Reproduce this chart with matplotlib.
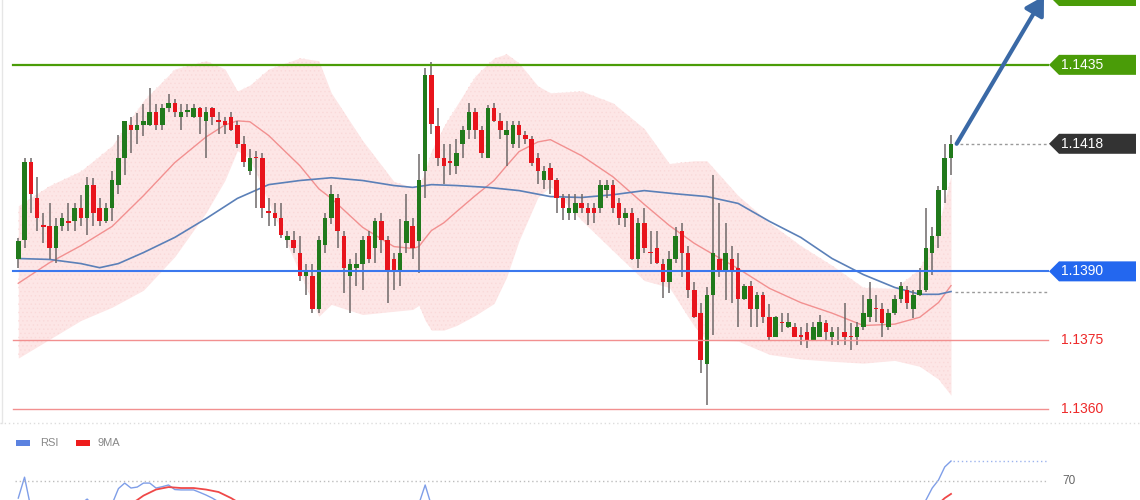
import numpy as np
import matplotlib.pyplot as plt
from matplotlib.patches import Polygon, Rectangle
from matplotlib.lines import Line2D
from matplotlib.transforms import blended_transform_factory

plt.rcParams['font.family'] = ['Liberation Sans', 'DejaVu Sans']
plt.rcParams['hatch.linewidth'] = 0.5

# ---- candle data ----
opens = [1.13928, 1.13969, 1.14139, 1.14059, 1.14000, 1.13998, 1.13950, 1.13998, 1.14009, 1.14009,
         1.14039, 1.14017, 1.14089, 1.14039, 1.14009, 1.14039, 1.14089, 1.14148, 1.14219, 1.14209,
         1.14219, 1.14219, 1.14248, 1.14219, 1.14256, 1.14267, 1.14237, 1.14248, 1.14237, 1.14256,
         1.14228, 1.14256, 1.14228, 1.14228, 1.14237, 1.14219, 1.14178, 1.14119, 1.14148, 1.14148,
         1.14030, 1.14028, 1.14017, 1.13969, 1.13969, 1.13939, 1.13889, 1.13889, 1.13819, 1.13958,
         1.14017, 1.14059, 1.13978, 1.13889, 1.13908, 1.13917, 1.13978, 1.13950, 1.14009, 1.13969,
         1.13928, 1.13898, 1.13961, 1.13998, 1.13967, 1.14119, 1.14328, 1.14217, 1.14148, 1.14139,
         1.14130, 1.14178, 1.14209, 1.14248, 1.14209, 1.14148, 1.14256, 1.14228, 1.14198, 1.14178,
         1.14219, 1.14198, 1.14189, 1.14148, 1.14098, 1.14126, 1.14098, 1.14059, 1.14028, 1.14028,
         1.14048, 1.14037, 1.14037, 1.14037, 1.14078, 1.14089, 1.14048, 1.14017, 1.14028, 1.13928,
         1.14006, 1.13941, 1.13950, 1.13917, 1.13876, 1.13928, 1.13989, 1.13939, 1.13859, 1.13809,
         1.13698, 1.13848, 1.13928, 1.13898, 1.13928, 1.13908, 1.13839, 1.13869, 1.13819, 1.13848,
         1.13800, 1.13758, 1.13789, 1.13778, 1.13778, 1.13761, 1.13767, 1.13750, 1.13758, 1.13787,
         1.13758, 1.13750, 1.13767, 1.13758, 1.13758, 1.13778, 1.13800, 1.13819, 1.13819, 1.13778,
         1.13809, 1.13839, 1.13859, 1.13819, 1.13848, 1.13859, 1.13941, 1.13978, 1.14078, 1.14148]
highs = [1.13972, 1.14146, 1.14148, 1.14106, 1.14028, 1.14048, 1.14017, 1.14028, 1.14048, 1.14048,
         1.14067, 1.14106, 1.14104, 1.14059, 1.14048, 1.14119, 1.14198, 1.14228, 1.14237, 1.14245,
         1.14265, 1.14300, 1.14265, 1.14265, 1.14287, 1.14276, 1.14265, 1.14265, 1.14265, 1.14259,
         1.14259, 1.14259, 1.14248, 1.14237, 1.14248, 1.14228, 1.14196, 1.14167, 1.14163, 1.14159,
         1.14059, 1.14048, 1.14048, 1.13989, 1.13989, 1.13978, 1.13917, 1.13917, 1.13978, 1.14028,
         1.14089, 1.14069, 1.13989, 1.13928, 1.13939, 1.13978, 1.13989, 1.14017, 1.14028, 1.13978,
         1.13939, 1.14015, 1.14069, 1.14017, 1.14156, 1.14343, 1.14356, 1.14256, 1.14178, 1.14178,
         1.14189, 1.14217, 1.14267, 1.14256, 1.14217, 1.14263, 1.14267, 1.14245, 1.14228, 1.14228,
         1.14228, 1.14206, 1.14196, 1.14159, 1.14130, 1.14137, 1.14104, 1.14069, 1.14069, 1.14069,
         1.14069, 1.14048, 1.14048, 1.14100, 1.14098, 1.14098, 1.14059, 1.14039, 1.14037, 1.14017,
         1.14037, 1.13989, 1.13989, 1.13928, 1.13945, 1.13996, 1.14006, 1.13956, 1.13876, 1.13830,
         1.13865, 1.14109, 1.14048, 1.14006, 1.13956, 1.13939, 1.13872, 1.13880, 1.13854, 1.13854,
         1.13828, 1.13802, 1.13809, 1.13809, 1.13787, 1.13778, 1.13787, 1.13789, 1.13804, 1.13793,
         1.13778, 1.13778, 1.13830, 1.13787, 1.13789, 1.13848, 1.13876, 1.13848, 1.13830, 1.13819,
         1.13848, 1.13876, 1.13869, 1.13859, 1.13908, 1.14037, 1.13996, 1.14087, 1.14178, 1.14198]
lows = [1.13908, 1.13950, 1.14028, 1.13989, 1.13961, 1.13928, 1.13919, 1.13989, 1.13989, 1.13989,
        1.13998, 1.13980, 1.13998, 1.13998, 1.14006, 1.14009, 1.14069, 1.14109, 1.14159, 1.14178,
        1.14196, 1.14217, 1.14209, 1.14209, 1.14248, 1.14237, 1.14209, 1.14237, 1.14235, 1.14200,
        1.14148, 1.14219, 1.14200, 1.14200, 1.14206, 1.14169, 1.14128, 1.14109, 1.14039, 1.14017,
        1.13998, 1.13998, 1.13972, 1.13952, 1.13939, 1.13880, 1.13848, 1.13809, 1.13809, 1.13939,
        1.14004, 1.13950, 1.13852, 1.13809, 1.13869, 1.13859, 1.13919, 1.13919, 1.13939, 1.13830,
        1.13859, 1.13869, 1.13939, 1.13928, 1.13896, 1.14059, 1.14200, 1.14130, 1.14091, 1.14109,
        1.14113, 1.14148, 1.14189, 1.14189, 1.14148, 1.14146, 1.14226, 1.14189, 1.14130, 1.14169,
        1.14169, 1.14178, 1.14130, 1.14091, 1.14080, 1.14069, 1.14028, 1.14011, 1.14011, 1.14011,
        1.14028, 1.14000, 1.14006, 1.14028, 1.14059, 1.14028, 1.14000, 1.13996, 1.13924, 1.13908,
        1.13939, 1.13917, 1.13917, 1.13841, 1.13852, 1.13919, 1.13887, 1.13841, 1.13798, 1.13678,
        1.13608, 1.13761, 1.13887, 1.13837, 1.13830, 1.13778, 1.13837, 1.13778, 1.13778, 1.13787,
        1.13750, 1.13756, 1.13767, 1.13776, 1.13756, 1.13739, 1.13732, 1.13748, 1.13756, 1.13748,
        1.13739, 1.13739, 1.13739, 1.13728, 1.13739, 1.13772, 1.13789, 1.13789, 1.13758, 1.13772,
        1.13806, 1.13830, 1.13819, 1.13798, 1.13846, 1.13856, 1.13891, 1.13950, 1.14048, 1.14109]
closes = [1.13967, 1.14139, 1.14069, 1.14017, 1.13996, 1.13950, 1.13998, 1.14017, 1.14006, 1.14039,
          1.14017, 1.14089, 1.14028, 1.14009, 1.14039, 1.14100, 1.14148, 1.14228, 1.14209, 1.14219,
          1.14228, 1.14248, 1.14219, 1.14256, 1.14267, 1.14248, 1.14248, 1.14250, 1.14256, 1.14237,
          1.14248, 1.14237, 1.14226, 1.14219, 1.14209, 1.14178, 1.14139, 1.14148, 1.14146, 1.14039,
          1.14028, 1.14017, 1.13980, 1.13978, 1.13950, 1.13889, 1.13898, 1.13819, 1.13969, 1.14017,
          1.14069, 1.13989, 1.13908, 1.13917, 1.13917, 1.13969, 1.13928, 1.14009, 1.13969, 1.13898,
          1.13898, 1.13939, 1.14009, 1.13950, 1.14098, 1.14328, 1.14222, 1.14148, 1.14130, 1.14137,
          1.14159, 1.14209, 1.14248, 1.14209, 1.14159, 1.14256, 1.14228, 1.14209, 1.14209, 1.14219,
          1.14198, 1.14189, 1.14137, 1.14119, 1.14119, 1.14098, 1.14059, 1.14039, 1.14037, 1.14048,
          1.14037, 1.14028, 1.14028, 1.14089, 1.14089, 1.14037, 1.14017, 1.14028, 1.13928, 1.14006,
          1.13950, 1.13939, 1.13919, 1.13876, 1.13928, 1.13978, 1.13939, 1.13859, 1.13800, 1.13706,
          1.13848, 1.13939, 1.13898, 1.13939, 1.13898, 1.13839, 1.13869, 1.13819, 1.13848, 1.13800,
          1.13758, 1.13800, 1.13787, 1.13789, 1.13758, 1.13758, 1.13750, 1.13778, 1.13789, 1.13767,
          1.13767, 1.13748, 1.13758, 1.13756, 1.13778, 1.13809, 1.13839, 1.13817, 1.13787, 1.13809,
          1.13839, 1.13869, 1.13830, 1.13848, 1.13859, 1.13950, 1.13978, 1.14078, 1.14148, 1.14178]

# ---- indicators, sampled at candle indices ----
band_idx = [0, 5, 10, 15, 20, 25, 30, 33, 35, 37, 40, 45, 48, 50, 55, 60, 63, 64, 65, 66, 68, 70,
            73, 76, 78, 80, 83, 85, 90, 95, 100, 104, 108, 110, 115, 120, 125, 130, 135, 140, 144,
            147, 149]
band_mid = [1.13874, 1.13919, 1.13956, 1.13998, 1.14065, 1.14137, 1.14193, 1.14219, 1.14228, 1.14226,
            1.14196, 1.14130, 1.14080, 1.14059, 1.13996, 1.13954, 1.13950, 1.13954, 1.13972, 1.13989,
            1.14006, 1.14030, 1.14065, 1.14098, 1.14130, 1.14161, 1.14182, 1.14187, 1.14152, 1.14106,
            1.14046, 1.14000, 1.13961, 1.13945, 1.13906, 1.13863, 1.13832, 1.13809, 1.13782, 1.13785,
            1.13800, 1.13832, 1.13869]
band_up = [1.14043, 1.14087, 1.14119, 1.14174, 1.14272, 1.14341, 1.14359, 1.14341, 1.14293, 1.14306,
           1.14341, 1.14365, 1.14359, 1.14289, 1.14185, 1.14096, 1.14083, 1.14083, 1.14119, 1.14163,
           1.14217, 1.14261, 1.14326, 1.14365, 1.14374, 1.14354, 1.14304, 1.14289, 1.14293, 1.14267,
           1.14211, 1.14135, 1.14141, 1.14141, 1.14065, 1.14006, 1.13956, 1.13913, 1.13865, 1.13863,
           1.13906, 1.14000, 1.14109]
band_low = [1.13711, 1.13752, 1.13793, 1.13822, 1.13859, 1.13932, 1.14028, 1.14098, 1.14163, 1.14146,
            1.14050, 1.13896, 1.13802, 1.13828, 1.13806, 1.13813, 1.13817, 1.13826, 1.13793, 1.13772,
            1.13772, 1.13782, 1.13804, 1.13830, 1.13887, 1.13967, 1.14061, 1.14085, 1.14011, 1.13945,
            1.13880, 1.13865, 1.13780, 1.13750, 1.13748, 1.13719, 1.13709, 1.13704, 1.13700, 1.13706,
            1.13693, 1.13665, 1.13630]

ma_idx = [0, 5, 10, 13, 16, 20, 25, 30, 35, 40, 45, 50, 55, 60, 63, 66, 70, 75, 80, 85, 90, 95,
          100, 105, 110, 115, 120, 125, 130, 135, 140, 144, 147, 149]
ma_slow = [1.13928, 1.13926, 1.13917, 1.13908, 1.13917, 1.13941, 1.13974, 1.14015, 1.14059, 1.14089,
           1.14098, 1.14104, 1.14098, 1.14087, 1.14083, 1.14089, 1.14087, 1.14083, 1.14076, 1.14063,
           1.14061, 1.14067, 1.14076, 1.14069, 1.14063, 1.14048, 1.14009, 1.13974, 1.13928, 1.13893,
           1.13865, 1.13850, 1.13850, 1.13856]

rsi_idx = [0, 1, 2, 3, 9, 10, 11, 12, 14, 15, 16, 17, 18, 19, 20, 21, 22, 23, 24, 25, 26, 27, 28,
           29, 30, 31, 32, 33, 40, 62, 63, 64, 65, 66, 67, 80, 140, 143, 144, 145, 146, 147, 148, 149]
rsi_val = [61, 72, 56, 52, 54, 58, 60.5, 57, 56, 58, 66, 68.9, 66.3, 66.8, 68.9, 68.9, 66.3, 67,
           67.9, 65.5, 65.3, 65.3, 65.3, 64, 62.6, 61, 59, 55, 45, 50, 54, 58, 67.9, 57, 52, 45,
           50, 52, 55, 60, 66.3, 70.5, 77.4, 80.5]
rsi9_idx = [0, 15, 18, 19, 20, 22, 24, 26, 28, 30, 32, 34, 35, 40, 80, 140, 146, 147, 148, 149]
rsi9_val = [52, 55, 58, 60, 62.3, 65.5, 66.8, 66.3, 66.3, 65.5, 64.2, 61, 59, 55, 48, 48, 55, 58,
            61, 63.2]

green_levels = [1.1450, 1.1435]
blue_level = 1.1390
red_levels = [1.1375, 1.1360]
rsi_level = 70

# ---- layout ----
W, H = 1140, 500
main_h = 423
fig = plt.figure(figsize=(W / 100, H / 100), dpi=100)
fig.patch.set_facecolor('white')
ax = fig.add_axes([0, (H - main_h) / H, 1, main_h / H])
ax_r = fig.add_axes([0, 0, 1, (H - main_h) / H])
for a in (ax, ax_r):
    a.axis('off')
    a.set_xlim(-2.92, 179.19)
ylo, yhi = 1.135696, 1.144913
ax.set_ylim(ylo, yhi)
pp = (yhi - ylo) / main_h  # price per pixel
bt = blended_transform_factory(ax.transAxes, ax.transData)

n = len(closes)
idx = np.arange(n)
o, c = np.array(opens), np.array(closes)
up = c >= o

# bollinger-style band with faint dotted texture
ax.fill_between(band_idx, band_low, band_up, color='#fde6e6', lw=0, zorder=1)
ax.fill_between(band_idx, band_low, band_up, facecolor='none', edgecolor='#fad9d9',
                hatch='....', lw=0, zorder=1)
ax.plot(band_idx, band_mid, color='#f29090', lw=1.0, zorder=2)
ax.plot(ma_idx, ma_slow, color='#5b80b8', lw=1.2, zorder=2)

# candles
ax.vlines(idx, lows, highs, color='#6e6868', lw=1.1, zorder=3)
body_lo = np.minimum(o, c)
body_h = np.maximum(np.abs(c - o), 1.3 * pp)
ax.bar(idx, body_h, bottom=body_lo, width=0.72,
       color=np.where(up, '#217a1c', '#e8141c'), lw=0, zorder=4)

# horizontal levels
x0, x1 = 13 / W, 1048 / W
for lv in green_levels:
    ax.axhline(lv, xmin=x0, xmax=x1, color='#4a9c08', lw=1.6, zorder=5)
ax.axhline(blue_level, xmin=x0, xmax=x1, color='#3b78ee', lw=1.5, zorder=5)
for lv in red_levels:
    ax.axhline(lv, xmin=x0, xmax=x1, color='#f29090', lw=1.0, zorder=5)

ax.axhline(closes[-1], xmin=960 / W, xmax=1047 / W, color='#9a9a9a', lw=1, ls=(0, (2, 2)))
ax.axhline(ma_slow[-1], xmin=955 / W, xmax=1047 / W, color='#9a9a9a', lw=1, ls=(0, (2, 2)))


def tag(y, text, face):
    h = 10 * pp
    xa, xb, xc = 1049 / W, 1059 / W, 1136 / W
    ax.add_patch(Polygon([(xa, y), (xb, y + h), (xc, y + h), (xc, y - h), (xb, y - h)],
                         closed=True, transform=bt, facecolor=face, edgecolor='none',
                         clip_on=False, zorder=6))
    if text:
        ax.text(1061 / W, y, text, transform=bt, color='white', fontsize=10,
                va='center', ha='left', zorder=7)


# the upper target tag sits above the frame, only its lower edge shows
tag(green_levels[0], '', '#4a9c08')
tag(green_levels[1], f'{green_levels[1]:.4f}', '#4a9c08')
tag(blue_level, f'{blue_level:.4f}', '#2367ef')
tag(closes[-1], f'{closes[-1]:.4f}', '#333333')
for lv in red_levels:
    ax.text(1061 / W, lv, f'{lv:.4f}', transform=bt, color='#ee2a2a', fontsize=10,
            va='center', ha='left')

# forecast arrow
ax.annotate('', xy=(1044 / W, green_levels[0]), xycoords=('axes fraction', 'data'),
            xytext=(n - 0.1, closes[-1]), textcoords='data',
            arrowprops=dict(arrowstyle='-|>,head_length=0.55,head_width=0.32',
                            mutation_scale=20, color='#3a69a6', lw=3,
                            shrinkA=0, shrinkB=0), zorder=8)

fig.add_artist(Line2D([1.5 / W, 1.5 / W], [(H - main_h) / H, 1], color='#e6e6e6', lw=1))

# ---- RSI panel ----
ax_r.set_ylim(60, 100.5)
ax_r.plot(rsi_idx, rsi_val, color='#7f9ee8', lw=1.0)
ax_r.plot(rsi9_idx, rsi9_val, color='#ef4848', lw=1.3)
ax_r.axhline(rsi_level, xmin=15 / W, xmax=1047 / W, color='#bdbdbd', lw=1, ls=(0, (1, 2)))
ax_r.axhline(rsi_val[-1], xmin=953 / W, xmax=1047 / W, color='#9db4ee', lw=1, ls=(0, (1, 2)))
ax_r.text(1062 / W, rsi_level, str(rsi_level),
          transform=blended_transform_factory(ax_r.transAxes, ax_r.transData),
          color='#666666', fontsize=8.5, va='center', ha='left')
fig.add_artist(Line2D([0, 1], [(H - main_h) / H, (H - main_h) / H], color='#dddddd', lw=1,
                      ls=(0, (1, 2))))

ax_r.add_patch(Rectangle((16 / W, 0.70), 14 / W, 0.075, transform=ax_r.transAxes,
                         color='#5b82e0', lw=0))
ax_r.text(40 / W, 0.74, 'RSI', transform=ax_r.transAxes, color='#888888', fontsize=8, va='center')
ax_r.add_patch(Rectangle((76 / W, 0.70), 14 / W, 0.075, transform=ax_r.transAxes,
                         color='#ee1c1c', lw=0))
ax_r.text(98 / W, 0.74, '9MA', transform=ax_r.transAxes, color='#888888', fontsize=8, va='center')

fig.savefig('out.png', dpi=100)
